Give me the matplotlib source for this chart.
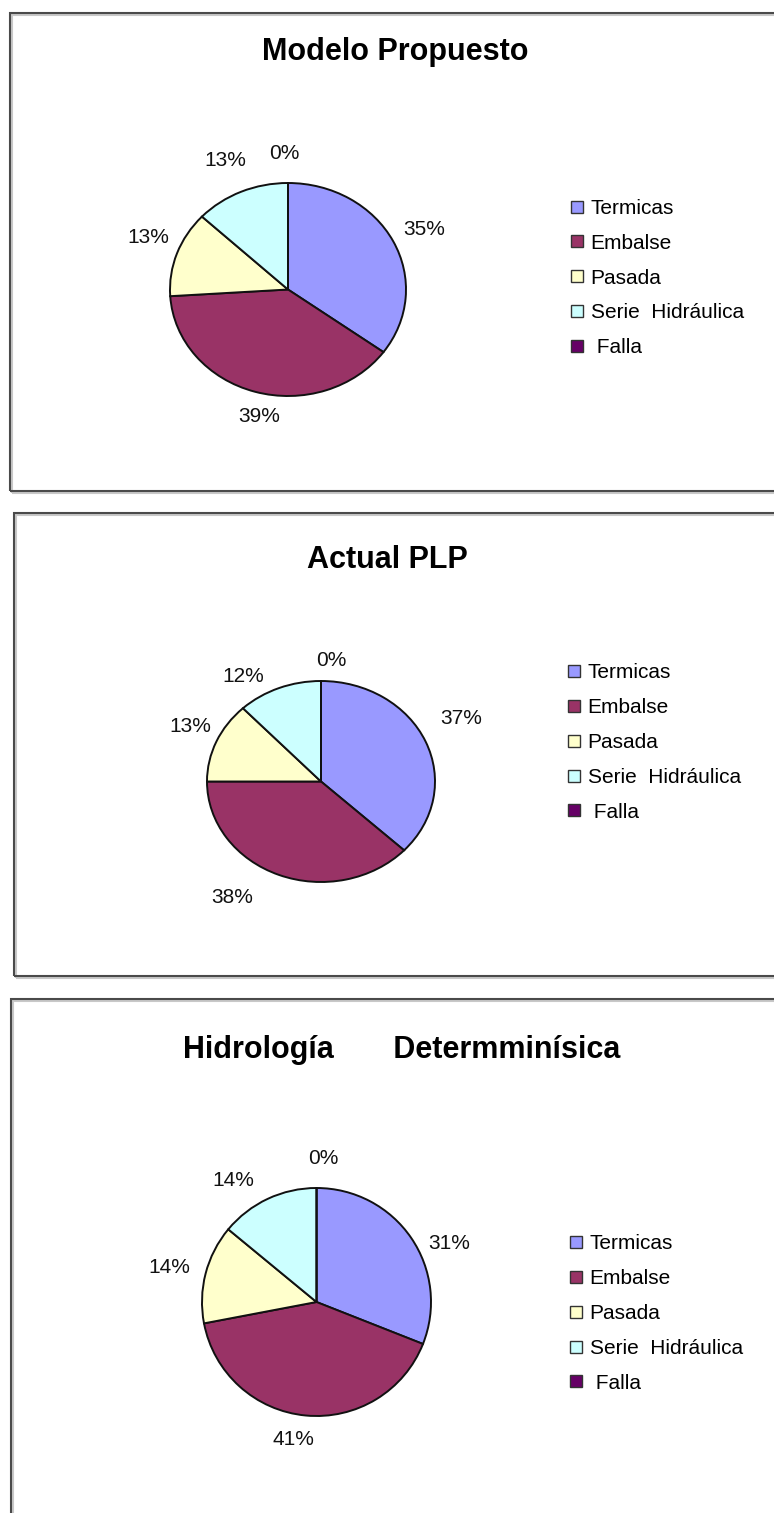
import numpy as np
import matplotlib
matplotlib.use("Agg")
import matplotlib.pyplot as plt
from matplotlib.patches import Rectangle
from matplotlib.lines import Line2D

plt.rcParams['font.family'] = ['Liberation Sans', 'DejaVu Sans']

# ---------------- data ----------------
categories = ["Termicas", "Embalse", "Pasada", "Serie  Hidráulica", "Falla"]
legend_labels = ["Termicas", "Embalse", "Pasada", "Serie  Hidráulica", " Falla"]
colors = ["#9999FF", "#993366", "#FFFFCC", "#CCFFFF", "#660066"]

titles = ["Modelo Propuesto", "Actual PLP", "Hidrología       Determminísica"]
modelo_propuesto = [35, 39, 13, 13, 0]
actual_plp = [37, 38, 13, 12, 0]
hidrologia_det = [31, 41, 14, 14, 0]
panel_values = [modelo_propuesto, actual_plp, hidrologia_det]

# ---------------- layout (pixels) ----------------
W, H = 774, 1513
fig = plt.figure(figsize=(W / 100, H / 100), dpi=100)


def fx(x):
    return x / W


def fy(y):
    return 1 - y / H


# panel boxes: (left, top, bottom)
boxes = [(10, 13, 491), (14, 513, 976), (11, 999, 1540)]
# pie geometry: (cx, cy, rx, ry)
pies = [(288, 289.5, 118, 106.5), (321, 781.5, 114, 100.5), (316.5, 1302, 114.5, 114)]
# title positions (center x, center y)
title_pos = [(395, 52), (387, 560), (401.5, 1050)]
# legend: (left x of handle, vertical center)
legend_pos = [(570.5, 278), (567.5, 742.5), (569.5, 1313.5)]
# label placement (radial factor, angle shift in degrees)
label_place = [
    [(1.285, -0.8), (1.222, 4.6), (1.28, -2.4), (1.32, 0.5), (1.28, 1.5)],
    [(1.38, 3.6), (1.39, -12.4), (1.27, -1.9), (1.25, 11.4), (1.21, -4.2)],
    [(1.27, -10.2), (1.22, -4.3), (1.32, 1.0), (1.29, 9.3), (1.26, -2.6)],
]

for (bx, by0, by1) in boxes:
    shadow = Rectangle((fx(bx + 2), fy(by1 + 2)), (W + 40 - bx) / W, (by1 - by0) / H,
                       transform=fig.transFigure, fill=False, edgecolor="#c8c8c8",
                       linewidth=1.5, zorder=0)
    fig.patches.append(shadow)
    rect = Rectangle((fx(bx), fy(by1)), (W + 40 - bx) / W, (by1 - by0) / H,
                     transform=fig.transFigure, fill=False, edgecolor="#4a4a4a",
                     linewidth=1.5, zorder=1)
    fig.patches.append(rect)

m = 1.05
for i, vals in enumerate(panel_values):
    cx, cy, rx, ry = pies[i]
    ax = fig.add_axes([fx(cx - m * rx), fy(cy + m * ry), 2 * m * rx / W, 2 * m * ry / H])
    wedges, _ = ax.pie(vals, colors=colors, startangle=90, counterclock=False,
                       radius=1.0, center=(0, 0),
                       wedgeprops=dict(edgecolor="#111111", linewidth=1.4))
    ax.set_aspect("auto")
    ax.set_xlim(-m, m)
    ax.set_ylim(-m, m)
    ax.axis("off")
    for w, v, (f, da) in zip(wedges, vals, label_place[i]):
        ang = np.deg2rad((w.theta1 + w.theta2) / 2 + da)
        ax.text(f * np.cos(ang), f * np.sin(ang), f"{v}%", ha="center", va="center",
                fontsize=15, color="#111111", clip_on=False)

    tx, ty = title_pos[i]
    fig.text(fx(tx), fy(ty), titles[i], ha="center", va="center",
             fontsize=22, fontweight="bold", color="black")

    handles = [Line2D([], [], marker="s", linestyle="", markerfacecolor=c,
                      markeredgecolor="#333333", markeredgewidth=1.0, markersize=8)
               for c in colors]
    lx, ly = legend_pos[i]
    fig.legend(handles, legend_labels, loc="center left",
               bbox_to_anchor=(fx(lx), fy(ly)), bbox_transform=fig.transFigure,
               frameon=False, borderpad=0, borderaxespad=0, handlelength=0.6,
               handletextpad=0.37, labelspacing=0.76, prop={"size": 15})

fig.savefig("out.png", dpi=100, facecolor="white")
